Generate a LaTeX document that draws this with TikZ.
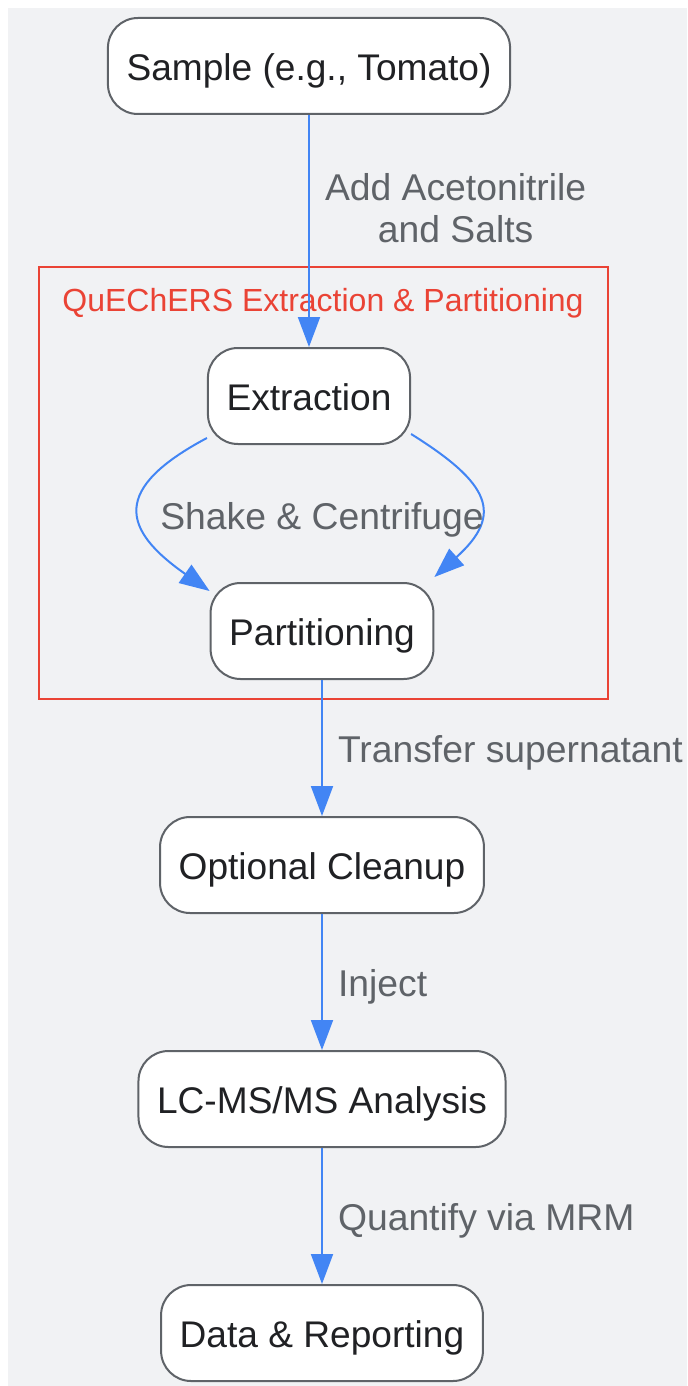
\documentclass[tikz,border=0pt]{standalone}
\usepackage{fontspec}
\setmainfont{Liberation Sans}
\usetikzlibrary{arrows.meta,positioning,calc}

\definecolor{flowblue}{HTML}{4285F4}
\definecolor{clusterred}{HTML}{EA4335}
\definecolor{labelgray}{HTML}{5F6368}
\definecolor{nodetext}{HTML}{202124}
\definecolor{canvas}{HTML}{F1F2F4}

\begin{document}
\begin{tikzpicture}[x=0.5pt,y=-0.5pt,
    ->,>={Triangle[length=15pt,width=11pt]},node distance=117pt,
    step node/.style={draw=labelgray,line width=1pt,fill=white,rounded corners=15pt,
        minimum height=48pt,inner xsep=9.3pt,text=nodetext,text height=14.8pt,text depth=0pt,
        font=\fontsize{18.55}{22}\selectfont},
    flow/.style={flowblue,line width=1pt},
    flow label/.style={text=labelgray,font=\fontsize{18.65}{21}\selectfont,align=center,inner sep=7.5pt},
    one line/.style={text height=14.9pt,text depth=0pt}]

    % canvas
    \useasboundingbox (0,0) rectangle (687,1386);
    \fill[canvas] (8,8) rectangle (687,1386);

    % QuEChERS cluster
    \draw[-,clusterred,line width=1pt] (39,267) rectangle (608,699);
    \node[text=clusterred,font=\fontsize{16}{19}\selectfont,text height=11.5pt,text depth=0pt] (cluster) at (323,300) {QuEChERS Extraction \& Partitioning};

    \node[step node] (sample) at (309,66) {Sample (e.g., Tomato)};
    \node[step node] (extraction) [below of = sample, node distance=165pt] {Extraction};
    \node[step node] (partitioning) [below of = extraction, node distance=117.5pt, xshift=6.5pt] {Partitioning};
    \node[step node] (cleanup) [below of = partitioning] {Optional Cleanup};
    \node[step node] (lcms) [below of = cleanup] {LC-MS/MS Analysis};
    \node[step node] (report) [below of = lcms] {Data \& Reporting};

    \path[flow]
        (sample) edge node[flow label, right, pos=0.4] {Add Acetonitrile\\and Salts} (extraction)
        (partitioning) edge node[flow label, one line, right] {Transfer supernatant} (cleanup)
        (cleanup) edge node[flow label, one line, right] {Inject} (lcms)
        (lcms) edge node[flow label, one line, right] {Quantify via MRM} (report)
    ;

    % shake & centrifuge (two curved edges)
    \path[flow]
        ([yshift=3.5pt]extraction.south west) edge[out=208, in=145, looseness=1.8] ([yshift=-4.5pt]partitioning.north west)
        ([yshift=5.5pt]extraction.south east) edge[out=-32, in=42, looseness=1.65] ([yshift=2.5pt]partitioning.north east)
    ;
    \node[flow label, one line] (shake) at (322,515) {Shake \& Centrifuge};

\end{tikzpicture}
\end{document}
